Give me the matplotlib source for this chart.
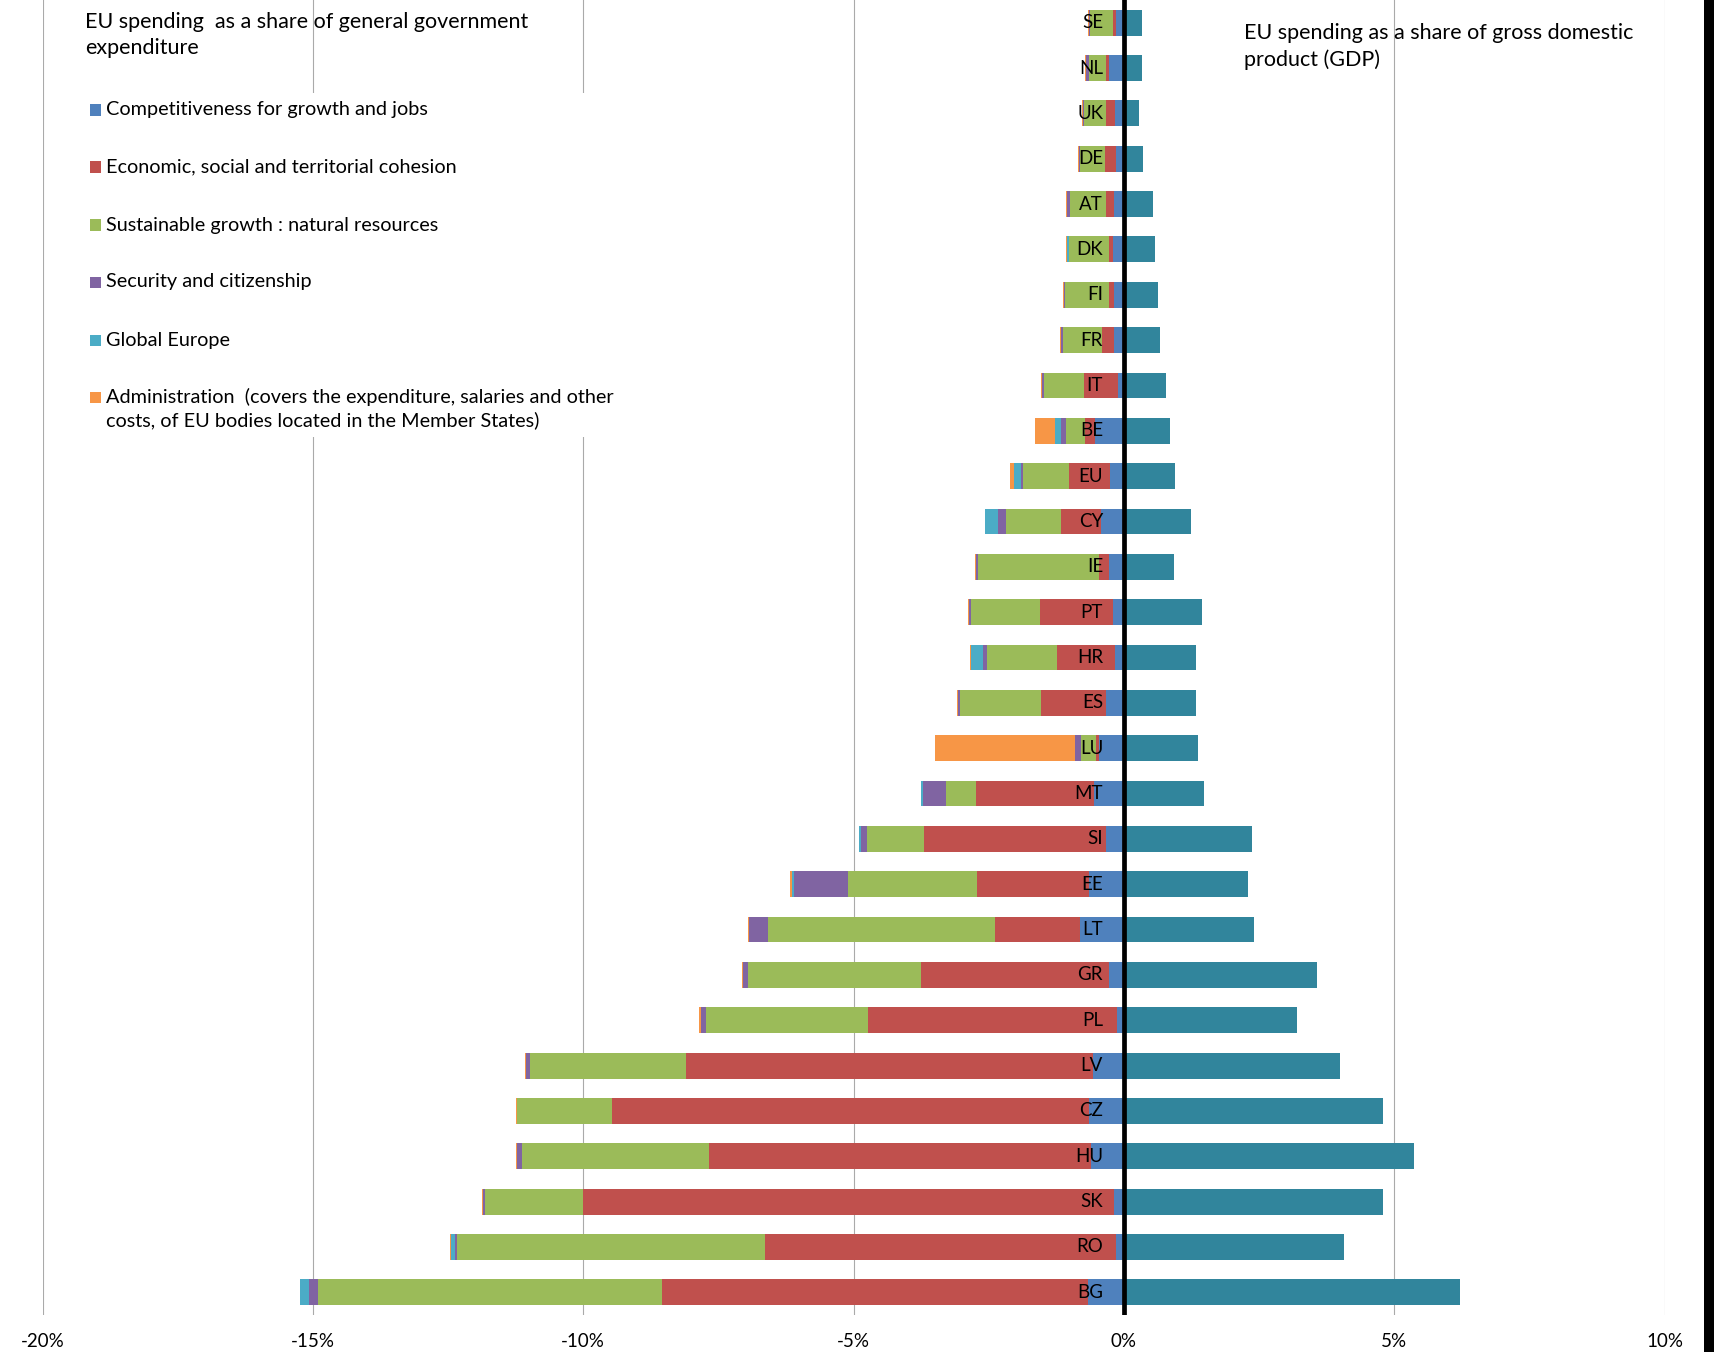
import matplotlib
matplotlib.use("Agg")
import matplotlib.pyplot as plt
from matplotlib.patches import Rectangle
import numpy as np

plt.rcParams['font.family'] = ['Lato', 'DejaVu Sans']

# rows from top to bottom
countries = ['SE', 'NL', 'UK', 'DE', 'AT', 'DK', 'FI', 'FR', 'IT', 'BE', 'EU', 'CY', 'IE', 'PT',
             'HR', 'ES', 'LU', 'MT', 'SI', 'EE', 'LT', 'GR', 'PL', 'LV', 'CZ', 'HU', 'SK', 'RO', 'BG']

# EU spending as % of general government expenditure, by heading
competitiveness = [0.15, 0.27, 0.16, 0.14, 0.18, 0.20, 0.18, 0.18, 0.10, 0.54, 0.26, 0.42, 0.28, 0.20,
                   0.16, 0.33, 0.46, 0.56, 0.33, 0.64, 0.82, 0.27, 0.12, 0.58, 0.64, 0.60, 0.19, 0.14, 0.67]
cohesion = [0.05, 0.055, 0.17, 0.20, 0.15, 0.07, 0.09, 0.22, 0.64, 0.185, 0.75, 0.74, 0.185, 1.36,
            1.07, 1.20, 0.06, 2.18, 3.37, 2.07, 1.56, 3.49, 4.61, 7.52, 8.83, 7.08, 9.81, 6.49, 7.88]
natural_resources = [0.42, 0.32, 0.40, 0.47, 0.67, 0.75, 0.81, 0.73, 0.74, 0.345, 0.86, 1.02, 2.24, 1.26,
                     1.30, 1.50, 0.28, 0.55, 1.06, 2.40, 4.20, 3.19, 3.00, 2.88, 1.76, 3.45, 1.81, 5.70, 6.36]
security = [0.03, 0.06, 0.025, 0.025, 0.05, 0.0, 0.025, 0.025, 0.04, 0.10, 0.04, 0.15, 0.025, 0.05,
            0.07, 0.04, 0.10, 0.43, 0.11, 0.99, 0.35, 0.09, 0.10, 0.07, 0.0, 0.10, 0.04, 0.04, 0.16]
global_europe = [0.0, 0.0, 0.0, 0.0, 0.0, 0.03, 0.0, 0.0, 0.0, 0.11, 0.12, 0.23, 0.0, 0.0,
                 0.23, 0.0, 0.0, 0.03, 0.02, 0.04, 0.0, 0.0, 0.0, 0.0, 0.0, 0.0, 0.0, 0.07, 0.16]
administration = [0.02, 0.02, 0.02, 0.02, 0.025, 0.02, 0.02, 0.02, 0.01, 0.36, 0.07, 0.01, 0.02, 0.02,
                  0.025, 0.025, 2.60, 0.0, 0.0, 0.03, 0.025, 0.025, 0.025, 0.025, 0.016, 0.017, 0.017, 0.016, 0.016]

# EU spending as % of GDP
gdp_share = [0.33, 0.33, 0.28, 0.36, 0.53, 0.57, 0.64, 0.67, 0.78, 0.85, 0.94, 1.25, 0.93, 1.44,
             1.34, 1.33, 1.38, 1.49, 2.37, 2.30, 2.40, 3.58, 3.20, 3.99, 4.80, 5.37, 4.80, 4.07, 6.21]

series_labels = ['Competitiveness for growth and jobs',
                 'Economic, social and territorial cohesion',
                 'Sustainable growth : natural resources',
                 'Security and citizenship',
                 'Global Europe',
                 'Administration  (covers the expenditure, salaries and other\ncosts, of EU bodies located in the Member States)']
series_colors = ['#4F81BD', '#C0504D', '#9BBB59', '#8064A2', '#4BACC6', '#F79646']
gdp_color = '#31859C'

W, H = 1714, 1352
fig = plt.figure(figsize=(W / 100, H / 100), dpi=100)
ax = fig.add_axes([42.6 / W, 1 - 1315 / H, (1664.5 - 42.6) / W, 1315 / H])

y = np.arange(len(countries))
left = np.zeros(len(countries))
for vals, col in zip([competitiveness, cohesion, natural_resources, security, global_europe, administration],
                     series_colors):
    v = np.array(vals)
    ax.barh(y, -v, left=-left, height=0.57, color=col, zorder=2)
    left += v
ax.barh(y, gdp_share, height=0.57, color=gdp_color, zorder=2)

ax.axvline(0, color='black', lw=3.4, zorder=4)

for yi, c in zip(y, countries):
    ax.annotate(c, (0, yi), xytext=(-15, 0), textcoords='offset points',
                ha='right', va='center', fontsize=13.5, color='black', zorder=3)

ax.set_xlim(-20, 10)
ax.set_ylim(28.5, -0.5)
ticks = [-20, -15, -10, -5, 0, 5, 10]
ax.set_xticks(ticks)
ax.set_xticklabels(['%d%%' % t for t in ticks], fontsize=13.5)
ax.set_yticks([])
ax.tick_params(axis='x', length=0, pad=13)
ax.grid(axis='x', color='#AAAAAA', lw=0.8, zorder=0)
ax.set_axisbelow(True)
for s in ax.spines.values():
    s.set_visible(False)

# titles
fig.text(85 / W, 1 - 12 / H, 'EU spending  as a share of general government\nexpenditure',
         ha='left', va='top', fontsize=15.5, linespacing=1.4)
fig.text(1244 / W, 1 - 23 / H, 'EU spending as a share of gross domestic\nproduct (GDP)',
         ha='left', va='top', fontsize=15.5, linespacing=1.4)

# legend block (white background hides the gridlines behind it)
fig.add_artist(Rectangle((60 / W, 1 - 437 / H), 640 / W, 344 / H, transform=fig.transFigure,
                         facecolor='white', edgecolor='none', zorder=5))
row_y = [110, 167, 225, 282, 340, 397]
for ry, lab, col in zip(row_y, series_labels, series_colors):
    fig.add_artist(Rectangle((90 / W, 1 - (ry + 5.5) / H), 11 / W, 11 / H, transform=fig.transFigure,
                             facecolor=col, edgecolor='none', zorder=6))
    if '\n' in lab:
        fig.text(106 / W, 1 - (ry - 9) / H, lab, ha='left', va='top', fontsize=14.3,
                 linespacing=1.35, zorder=6)
    else:
        fig.text(106 / W, 1 - ry / H, lab, ha='left', va='center', fontsize=14.3, zorder=6)

# dark strip on the right edge of the image
fig.add_artist(Rectangle((1704 / W, 0), 10 / W, 1, transform=fig.transFigure,
                         facecolor='black', edgecolor='none', zorder=7))

fig.savefig('out.png', dpi=100)
